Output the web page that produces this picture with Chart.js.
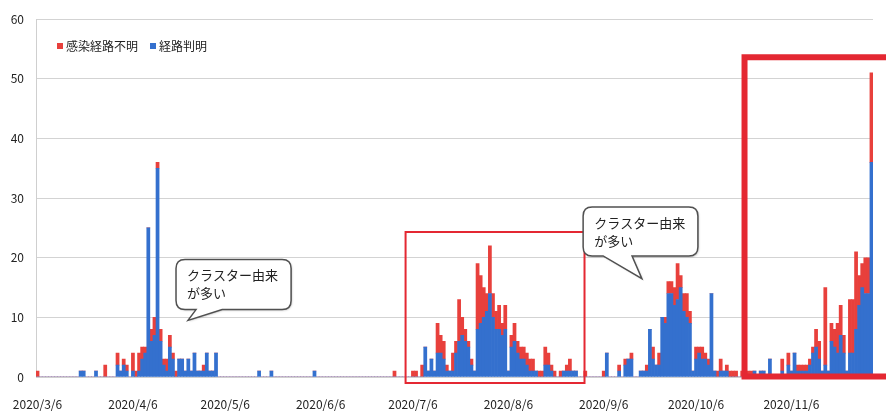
<!DOCTYPE html>
<html>
<head>
<meta charset="utf-8">
<script src="https://cdn.jsdelivr.net/npm/chart.js@4.4.0/dist/chart.umd.min.js"></script>
<style>
  html, body { margin:0; padding:0; background:#fff; overflow:hidden; }
  #wrap { width:886px; height:412px; }
</style>
</head>
<body>
<div id="wrap"><canvas id="c" width="886" height="412"></canvas></div>
<script>
// --- DATA (daily counts, 2020/3/6 - 2020/12/2) ---
const START = [2020, 3, 6];
const TICK_LABELS = ["2020/3/6","2020/4/6","2020/5/6","2020/6/6","2020/7/6","2020/8/6","2020/9/6","2020/10/6","2020/11/6"];

// 経路判明 (blue)
const KNOWN_MAR = [0,0,0,0,0,0,0,0,0,0,0,0,0,0,1,1,0,0,0,1,0,0,0,0,0,0];
const KNOWN_APR = [2,1,2,1,0,1,0,1,3,4,25,6,7,35,6,2,1,5,3,0,3,3,1,3,1,4,1,1,1,4];
const KNOWN_MAY = [1,1,4,0,0,0,0,0,0,0,0,0,0,0,0,0,1,0,0,0,1,0,0,0,0,0,0,0,0,0,0];
const KNOWN_JUN = [0,0,0,1,0,0,0,0,0,0,0,0,0,0,0,0,0,0,0,0,0,0,0,0,0,0,0,0,0,0];
const KNOWN_JUL = [0,0,0,0,0,0,0,0,0,5,1,3,1,4,4,3,1,1,1,4,6,7,6,5,2,1,8,9,10,11,14];
const KNOWN_AUG = [10,8,8,7,8,1,5,6,4,3,3,2,1,1,1,0,0,2,2,1,0,0,0,1,1,1,1,1,0,0,0];
const KNOWN_SEP = [0,0,0,0,0,0,4,0,0,0,1,0,2,3,3,0,0,1,1,1,8,3,2,2,10,9,14,14,12,13];
const KNOWN_OCT = [15,11,10,9,1,3,4,3,3,2,14,1,0,1,1,1,0,0,0,0,0,0,0,0,1,0,1,1,0,3,0];
const KNOWN_NOV = [0,0,1,0,2,1,4,1,1,1,1,2,4,5,3,1,2,1,6,5,4,7,4,1,4,4,8,12,15,14];
const KNOWN_DEC = [14,36];

// 感染経路不明 (red)
const UNKNOWN_MAR = [1,0,0,0,0,0,0,0,0,0,0,0,0,0,0,0,0,0,0,0,0,0,2,0,0,0];
const UNKNOWN_APR = [2,0,1,1,0,3,1,3,2,1,0,2,3,1,2,1,2,2,1,1,0,0,0,0,0,0,0,0,1,0];
const UNKNOWN_MAY = [0,0,0,0,0,0,0,0,0,0,0,0,0,0,0,0,0,0,0,0,0,0,0,0,0,0,0,0,0,0,0];
const UNKNOWN_JUN = [0,0,0,0,0,0,0,0,0,0,0,0,0,0,0,0,0,0,0,0,0,0,0,0,0,0,0,0,0,1];
const UNKNOWN_JUL = [0,0,0,0,0,1,1,0,2,0,0,0,0,5,3,3,1,0,3,2,7,3,2,1,1,0,11,8,5,3,8];
const UNKNOWN_AUG = [4,3,4,2,4,0,2,3,2,2,2,2,2,2,0,1,1,3,2,1,1,0,1,0,1,2,0,0,0,0,1];
const UNKNOWN_SEP = [0,0,0,0,0,1,0,0,0,0,1,0,1,0,1,0,0,0,0,1,0,2,0,2,0,1,2,2,3,6];
const UNKNOWN_OCT = [2,3,4,2,0,2,1,2,1,1,0,0,1,2,0,1,1,1,1,0,1,1,1,1,0,0,0,0,0,0,0];
const UNKNOWN_NOV = [0,0,2,0,2,0,0,1,1,1,1,1,1,3,3,0,13,0,3,3,5,5,3,0,9,9,13,5,4,6];
const UNKNOWN_DEC = [6,15];

const KNOWN = [].concat(KNOWN_MAR, KNOWN_APR, KNOWN_MAY, KNOWN_JUN, KNOWN_JUL, KNOWN_AUG, KNOWN_SEP, KNOWN_OCT, KNOWN_NOV, KNOWN_DEC);
const UNKNOWN = [].concat(UNKNOWN_MAR, UNKNOWN_APR, UNKNOWN_MAY, UNKNOWN_JUN, UNKNOWN_JUL, UNKNOWN_AUG, UNKNOWN_SEP, UNKNOWN_OCT, UNKNOWN_NOV, UNKNOWN_DEC);

// category labels, one per day
const labels = [];
for (let i = 0; i < KNOWN.length; i++) {
  const d = new Date(START[0], START[1]-1, START[2]+i);
  labels.push(`${d.getFullYear()}/${d.getMonth()+1}/${d.getDate()}`);
}

const RED = 'rgb(232,64,60)';
const BLUE = 'rgb(52,112,206)';
const FONT = "'Noto Sans CJK JP', 'Noto Sans', sans-serif";

// annotations in data units (category index, value); open:true = right side runs off the page
const BOXES = [
  {x0:119.6, x1:177.75, y0:-1.0, y1:24.3, w:2, open:false},
  {x0:229.75, x1:300, y0:0.1, y1:53.6, w:6, open:true}
];
const CALLOUTS = [
  {x0:45.0, x1:82.4, y0:11.3, y1:19.7, tail:[51.5, 60, 48.9, 9.5], text:["クラスター由来","が多い"]},
  {x0:177.3, x1:214.6, y0:20.3, y1:28.5, tail:[183.8, 193.2, 196.4, 16.5], text:["クラスター由来","が多い"]}
];

function bubble(ctx, l, t, r, b, bx1, bx2, tx, ty){
  const rad = 9;
  ctx.beginPath();
  ctx.moveTo(l+rad, t);
  ctx.lineTo(r-rad, t); ctx.quadraticCurveTo(r, t, r, t+rad);
  ctx.lineTo(r, b-rad); ctx.quadraticCurveTo(r, b, r-rad, b);
  ctx.lineTo(bx2, b); ctx.lineTo(tx, ty); ctx.lineTo(bx1, b);
  ctx.lineTo(l+rad, b); ctx.quadraticCurveTo(l, b, l, b-rad);
  ctx.lineTo(l, t+rad); ctx.quadraticCurveTo(l, t, l+rad, t);
  ctx.closePath();
}

const overlay = {
  id:'overlay',
  afterDraw(chart){
    const {ctx, scales:{x, y}} = chart;
    ctx.save();
    // red boxes
    ctx.strokeStyle = 'rgb(228,40,50)';
    BOXES.forEach(b => {
      ctx.lineWidth = b.w;
      const l = x.getPixelForValue(b.x0), r = x.getPixelForValue(b.x1);
      const t = y.getPixelForValue(b.y1), bt = y.getPixelForValue(b.y0);
      ctx.beginPath();
      if (b.open) {
        ctx.moveTo(r, t); ctx.lineTo(l, t); ctx.lineTo(l, bt); ctx.lineTo(r, bt);
      } else {
        ctx.rect(l, t, r-l, bt-t);
      }
      ctx.stroke();
    });
    // callouts
    CALLOUTS.forEach(c => {
      const l = x.getPixelForValue(c.x0), r = x.getPixelForValue(c.x1);
      const t = y.getPixelForValue(c.y1), b = y.getPixelForValue(c.y0);
      const bx1 = x.getPixelForValue(c.tail[0]), bx2 = x.getPixelForValue(c.tail[1]);
      const tx = x.getPixelForValue(c.tail[2]), ty = y.getPixelForValue(c.tail[3]);
      ctx.save();
      ctx.shadowColor = 'rgba(0,0,0,0.25)';
      ctx.shadowBlur = 2; ctx.shadowOffsetX = 1; ctx.shadowOffsetY = 1;
      bubble(ctx, l, t, r, b, bx1, bx2, tx, ty);
      ctx.fillStyle = '#fff'; ctx.fill();
      ctx.restore();
      bubble(ctx, l, t, r, b, bx1, bx2, tx, ty);
      ctx.lineWidth = 1.5; ctx.strokeStyle = '#505050'; ctx.stroke();
      ctx.fillStyle = '#222';
      ctx.font = `13px ${FONT}`;
      ctx.textBaseline = 'middle';
      ctx.textAlign = 'left';
      c.text.forEach((s, i) => ctx.fillText(s, l + 11, t + 16 + i*18));
    });
    // legend (red first)
    ctx.font = `12px ${FONT}`;
    ctx.textBaseline = 'middle';
    let lx = 57;
    [chart.data.datasets[1], chart.data.datasets[0]].forEach(ds => {
      ctx.fillStyle = ds.backgroundColor;
      ctx.fillRect(lx, 43, 6, 6);
      ctx.fillStyle = '#222';
      ctx.fillText(ds.label, lx + 9, 46);
      lx += 9 + ctx.measureText(ds.label).width + 12;
    });
    ctx.restore();
  }
};

new Chart(document.getElementById('c'), {
  type:'bar',
  data:{
    labels,
    datasets:[
      {label:'経路判明', data:KNOWN, backgroundColor:BLUE, borderWidth:0},
      {label:'感染経路不明', data:UNKNOWN, backgroundColor:RED, borderWidth:0}
    ]
  },
  options:{
    responsive:false,
    animation:false,
    devicePixelRatio:1,
    layout:{padding:{top:16, right:13, bottom:0, left:0}},
    datasets:{bar:{barPercentage:1, categoryPercentage:1}},
    plugins:{legend:{display:false}, tooltip:{enabled:false}},
    scales:{
      x:{
        stacked:true,
        grid:{display:false},
        border:{display:true, color:'#cfcfcf', width:1},
        ticks:{
          autoSkip:false, maxRotation:0, minRotation:0, padding:12,
          color:'#222', font:{family:FONT, size:12},
          callback:(v, i) => TICK_LABELS.includes(labels[i]) ? labels[i] : ''
        },
        afterFit:s => { s.height = 35; }
      },
      y:{
        stacked:true, min:0, max:60,
        grid:{color:'#d3d3d3', drawTicks:false},
        border:{display:true, color:'#cfcfcf'},
        ticks:{stepSize:10, padding:12, color:'#222', font:{family:FONT, size:12}},
        afterFit:s => { s.width = 36; }
      }
    }
  },
  plugins:[overlay]
});
</script>
</body>
</html>
